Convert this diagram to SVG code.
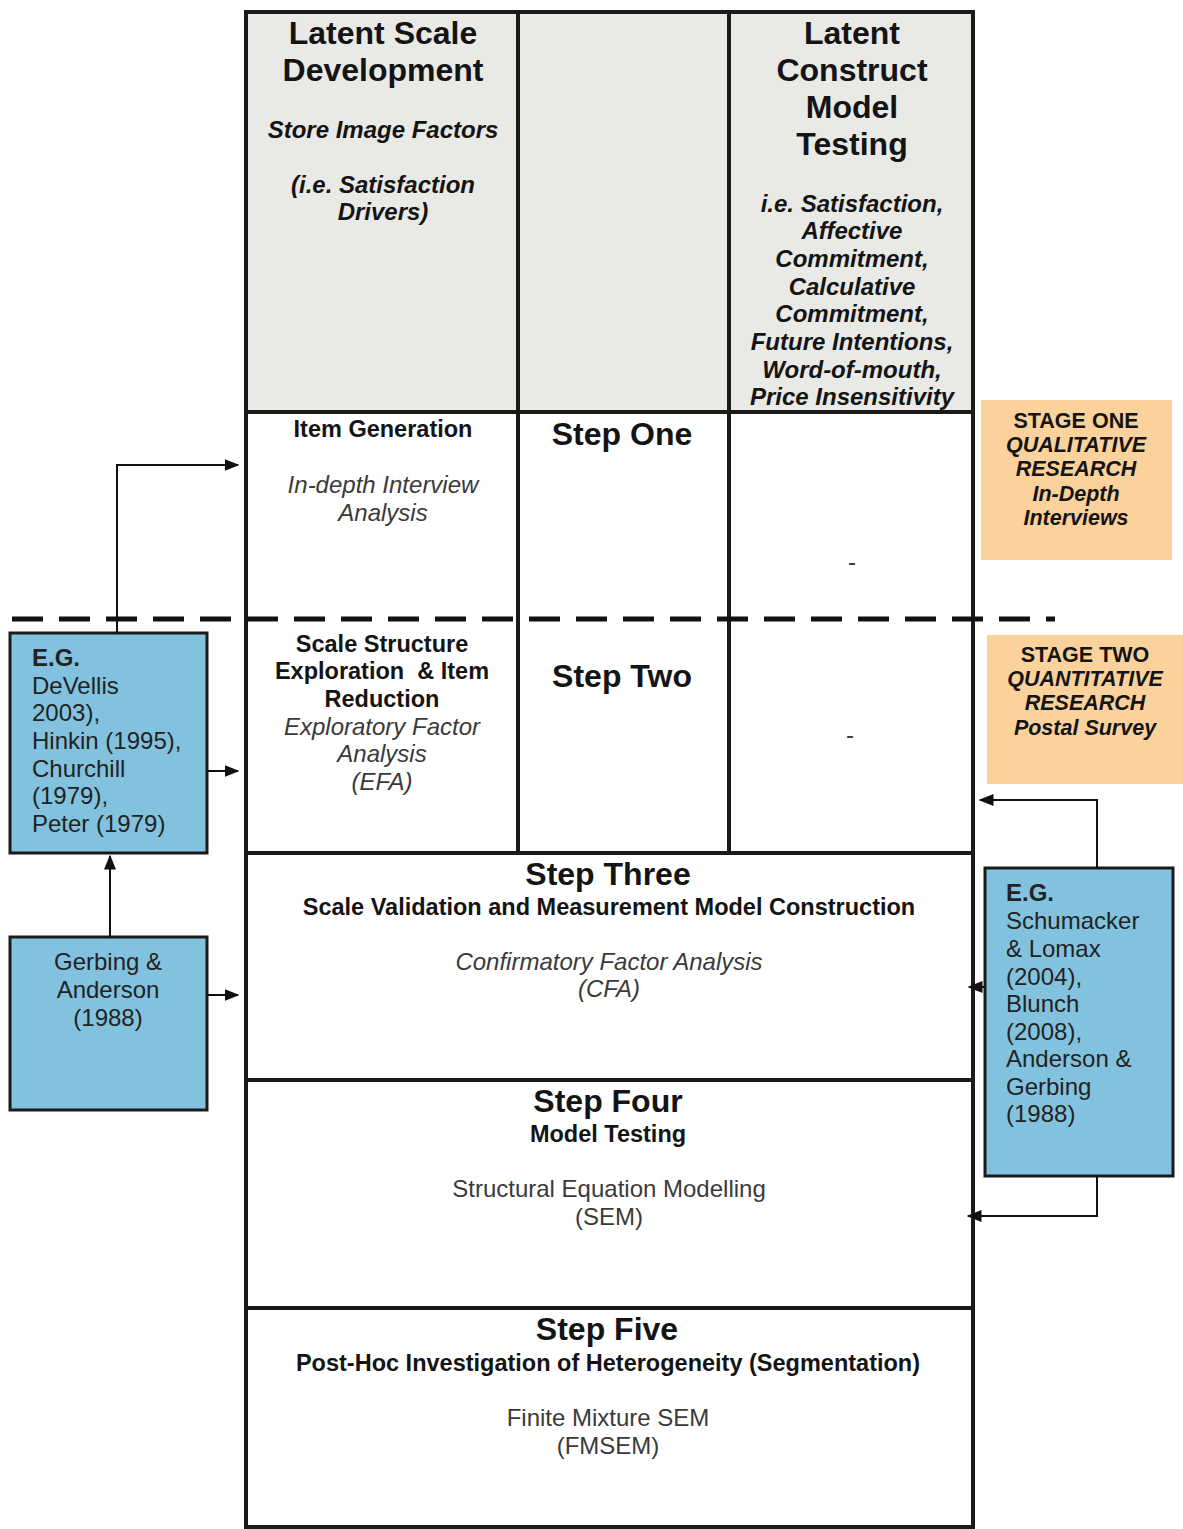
<svg xmlns="http://www.w3.org/2000/svg" width="1183" height="1529" viewBox="0 0 1183 1529">
  <style>
    text { font-family: "Liberation Sans", Arial, sans-serif; fill: #141414; }
    .c { text-anchor: middle; }
    .h1 { font-size: 32px; font-weight: bold; }
    .h2 { font-size: 23.5px; font-weight: bold; }
    .bi { font-size: 24px; font-weight: bold; font-style: italic; }
    .it { font-size: 24px; font-style: italic; fill: #3a3a3a; }
    .rg { font-size: 24px; fill: #3a3a3a; }
    .ref { font-size: 24px; fill: #222; }
    .st { font-size: 21.5px; font-weight: bold; }
    .sti { font-size: 21.5px; font-weight: bold; font-style: italic; }
    .grid { stroke: #1a1a1a; stroke-width: 4; fill: none; }
    .blue { fill: #83c2df; stroke: #1a1a1a; stroke-width: 3; }
    .orange { fill: #fbd19c; }
    .conn { stroke: #111; stroke-width: 2; fill: none; }
  </style>
  <defs>
    <marker id="ah" viewBox="0 0 10 8" refX="9" refY="4" markerWidth="7.5" markerHeight="6" orient="auto" markerUnits="strokeWidth">
      <path d="M0,0 L10,4 L0,8 z" fill="#111"/>
    </marker>
  </defs>

  <!-- header band -->
  <rect x="246" y="12" width="727" height="400" fill="#e9e9e6"/>

  <!-- table grid -->
  <g id="grid">
    <rect class="grid" x="246" y="12" width="727" height="1515"/>
    <line class="grid" x1="518" y1="12" x2="518" y2="853"/>
    <line class="grid" x1="729" y1="12" x2="729" y2="853"/>
    <line class="grid" x1="246" y1="412" x2="973" y2="412"/>
    <line class="grid" x1="246" y1="853" x2="973" y2="853"/>
    <line class="grid" x1="246" y1="1080" x2="973" y2="1080"/>
    <line class="grid" x1="246" y1="1308" x2="973" y2="1308"/>
  </g>

  <!-- stage divider -->
  <line x1="12" y1="619" x2="1055" y2="619" stroke="#111" stroke-width="5" stroke-dasharray="31,16"/>

  <g id="header-scale">
    <text class="h1 c" x="383" y="44">Latent Scale</text>
    <text class="h1 c" x="383" y="81">Development</text>
    <text class="bi c" x="383" y="138">Store Image Factors</text>
    <text class="bi c" x="383" y="193">(i.e. Satisfaction</text>
    <text class="bi c" x="383" y="220">Drivers)</text>
  </g>

  <g id="header-construct">
    <text class="h1 c" x="852" y="44">Latent</text>
    <text class="h1 c" x="852" y="81">Construct</text>
    <text class="h1 c" x="852" y="118">Model</text>
    <text class="h1 c" x="852" y="155">Testing</text>
    <text class="bi c" x="852" y="212">i.e. Satisfaction,</text>
    <text class="bi c" x="852" y="239">Affective</text>
    <text class="bi c" x="852" y="267">Commitment,</text>
    <text class="bi c" x="852" y="295">Calculative</text>
    <text class="bi c" x="852" y="322">Commitment,</text>
    <text class="bi c" x="852" y="350">Future Intentions,</text>
    <text class="bi c" x="852" y="378">Word-of-mouth,</text>
    <text class="bi c" x="852" y="405">Price Insensitivity</text>
  </g>

  <g id="step-one">
    <text class="h2 c" x="383" y="437">Item Generation</text>
    <text class="it c" x="383" y="493">In-depth Interview</text>
    <text class="it c" x="383" y="521">Analysis</text>
    <text class="h1 c" x="622" y="445">Step One</text>
    <text class="rg c" x="852" y="570">-</text>
  </g>

  <g id="step-two">
    <text class="h2 c" x="382" y="652">Scale Structure</text>
    <text class="h2 c" x="382" y="679" xml:space="preserve">Exploration  &amp; Item</text>
    <text class="h2 c" x="382" y="707">Reduction</text>
    <text class="it c" x="382" y="735">Exploratory Factor</text>
    <text class="it c" x="382" y="762">Analysis</text>
    <text class="it c" x="382" y="790">(EFA)</text>
    <text class="h1 c" x="622" y="687">Step Two</text>
    <text class="rg c" x="850" y="743">-</text>
  </g>

  <g id="step-three">
    <text class="h1 c" x="608" y="885">Step Three</text>
    <text class="h2 c" x="609" y="915">Scale Validation and Measurement Model Construction</text>
    <text class="it c" x="609" y="970">Confirmatory Factor Analysis</text>
    <text class="it c" x="609" y="997">(CFA)</text>
  </g>

  <g id="step-four">
    <text class="h1 c" x="608" y="1112">Step Four</text>
    <text class="h2 c" x="608" y="1142">Model Testing</text>
    <text class="rg c" x="609" y="1197">Structural Equation Modelling</text>
    <text class="rg c" x="609" y="1225">(SEM)</text>
  </g>

  <g id="step-five">
    <text class="h1 c" x="607" y="1340">Step Five</text>
    <text class="h2 c" x="608" y="1371">Post-Hoc Investigation of Heterogeneity (Segmentation)</text>
    <text class="rg c" x="608" y="1426">Finite Mixture SEM</text>
    <text class="rg c" x="608" y="1454">(FMSEM)</text>
  </g>

  <g id="stage-one">
    <rect class="orange" x="981" y="400" width="191" height="160"/>
    <text class="st c" x="1076" y="428">STAGE ONE</text>
    <text class="sti c" x="1076" y="452">QUALITATIVE</text>
    <text class="sti c" x="1076" y="476">RESEARCH</text>
    <text class="sti c" x="1076" y="501">In-Depth</text>
    <text class="sti c" x="1076" y="525">Interviews</text>
  </g>

  <g id="stage-two">
    <rect class="orange" x="987" y="635" width="196" height="149"/>
    <text class="st c" x="1085" y="662">STAGE TWO</text>
    <text class="sti c" x="1085" y="686">QUANTITATIVE</text>
    <text class="sti c" x="1085" y="710">RESEARCH</text>
    <text class="sti c" x="1085" y="735">Postal Survey</text>
  </g>

  <g id="refs-scale">
    <rect class="blue" x="10" y="633" width="197" height="220"/>
    <text class="ref" x="32" y="666" font-weight="bold">E.G.</text>
    <text class="ref" x="32" y="694">DeVellis</text>
    <text class="ref" x="32" y="721">2003),</text>
    <text class="ref" x="32" y="749">Hinkin (1995),</text>
    <text class="ref" x="32" y="777">Churchill</text>
    <text class="ref" x="32" y="804">(1979),</text>
    <text class="ref" x="32" y="832">Peter (1979)</text>
  </g>

  <g id="refs-cfa">
    <rect class="blue" x="10" y="937" width="197" height="173"/>
    <text class="ref c" x="108" y="970">Gerbing &amp;</text>
    <text class="ref c" x="108" y="998">Anderson</text>
    <text class="ref c" x="108" y="1026">(1988)</text>
  </g>

  <g id="refs-sem">
    <rect class="blue" x="985" y="868" width="188" height="308"/>
    <text class="ref" x="1006" y="901" font-weight="bold">E.G.</text>
    <text class="ref" x="1006" y="929">Schumacker</text>
    <text class="ref" x="1006" y="957">&amp; Lomax</text>
    <text class="ref" x="1006" y="985">(2004),</text>
    <text class="ref" x="1006" y="1012">Blunch</text>
    <text class="ref" x="1006" y="1040">(2008),</text>
    <text class="ref" x="1006" y="1067">Anderson &amp;</text>
    <text class="ref" x="1006" y="1095">Gerbing</text>
    <text class="ref" x="1006" y="1122">(1988)</text>
  </g>

  <g id="connectors">
    <polyline class="conn" points="117,633 117,465 238,465" marker-end="url(#ah)"/>
    <line class="conn" x1="207" y1="771" x2="238" y2="771" marker-end="url(#ah)"/>
    <line class="conn" x1="110" y1="937" x2="110" y2="856" marker-end="url(#ah)"/>
    <line class="conn" x1="207" y1="995" x2="238" y2="995" marker-end="url(#ah)"/>
    <polyline class="conn" points="1097,868 1097,800 980,800" marker-end="url(#ah)"/>
    <line class="conn" x1="985" y1="987" x2="969" y2="987" marker-end="url(#ah)"/>
    <polyline class="conn" points="1097,1176 1097,1216 968,1216" marker-end="url(#ah)"/>
  </g>
</svg>
